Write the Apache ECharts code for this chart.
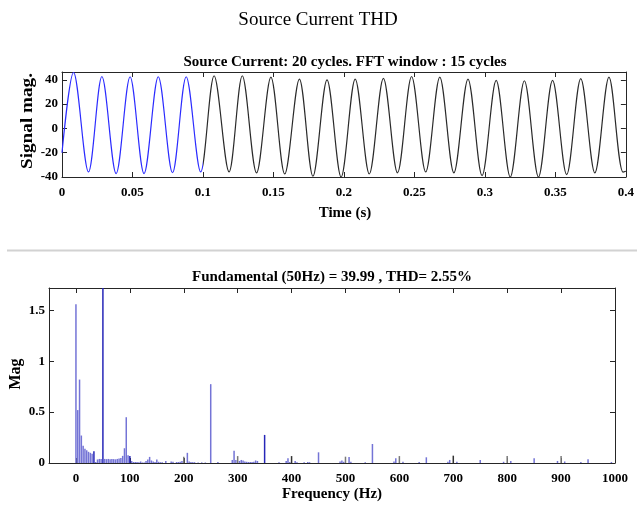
<!DOCTYPE html>
<html><head><meta charset="utf-8">
<script src="https://cdn.jsdelivr.net/npm/echarts@6/dist/echarts.min.js"></script>
<style>html,body{margin:0;padding:0;background:#fff}#c{width:637px;height:509px}</style>
</head><body><div id="c"></div>
<script>
// ---------- Data: time signal (extrema) ----------
const signalStart = [0, -20];
const signalEnd = [0.4, -35.3];
const peakTimes = [0.0082, 0.0283, 0.0483, 0.0683, 0.0881, 0.1079, 0.1279, 0.1482, 0.1684, 0.188, 0.208, 0.228, 0.248, 0.268, 0.288, 0.308, 0.328, 0.348, 0.368, 0.388];
const peakValues = [46, 42.7, 42.5, 42.5, 42.5, 43.3, 43.3, 42.2, 40.6, 40, 40.6, 41.2, 42.7, 42.2, 40.6, 39.5, 39.2, 39.5, 40.9, 42.2];
const troughTimes = [0.0188, 0.0384, 0.0582, 0.0784, 0.0984, 0.1185, 0.138, 0.158, 0.178, 0.198, 0.218, 0.238, 0.258, 0.278, 0.298, 0.318, 0.338, 0.358, 0.378, 0.398];
const troughValues = [-35.8, -37.2, -37.2, -36.5, -35.8, -35.8, -36.6, -37.5, -39.4, -40, -37.5, -36.6, -35.8, -36.6, -38.9, -40, -40, -38.1, -36.6, -36];
const fftWindowEnd = 0.1;

// ---------- Data: spectrum ----------
const specFreq = [0, 3.33, 6.67, 10, 13.33, 16.67, 20, 23.33, 26.67, 30, 33.33, 36.67, 40, 43.33, 46.67, 50, 53.33, 56.67, 60, 63.33, 66.67, 70, 73.33, 76.67, 80, 83.33, 86.67, 90, 93.33, 96.67, 100, 103.33, 106.67, 110, 113.33, 116.67, 120, 123.33, 126.67, 130, 133.33, 136.67, 140, 143.33, 146.67, 150, 153.33, 156.67, 160, 166.67, 176.67, 180, 186.67, 190, 193.33, 196.67, 200, 206.67, 210, 213.33, 216.67, 220, 226.67, 233.33, 240, 250, 263.33, 290, 293.33, 296.67, 300, 303.33, 306.67, 310, 313.33, 316.67, 320, 323.33, 326.67, 330, 333.33, 336.67, 350, 376.67, 390, 393.33, 396.67, 400, 406.67, 410, 423.33, 430, 433.33, 450, 490, 493.33, 496.67, 500, 506.67, 510, 536.67, 550, 590, 593.33, 600, 606.67, 636.67, 650, 690, 693.33, 700, 706.67, 750, 793.33, 800, 806.67, 850, 893.33, 900, 906.67, 936.67, 950, 993.33];
const specMag = [1.56, 0.52, 0.82, 0.27, 0.17, 0.14, 0.125, 0.11, 0.1, 0.09, 0.115, 0.01, 0.035, 0.04, 0.04, 39.99, 0.04, 0.038, 0.04, 0.038, 0.04, 0.038, 0.036, 0.04, 0.045, 0.05, 0.07, 0.145, 0.45, 0.075, 0.07, 0.02, 0.01, 0.01, 0.01, 0.008, 0.015, 0.005, 0.005, 0.02, 0.035, 0.06, 0.025, 0.015, 0.01, 0.035, 0.012, 0.008, 0.008, 0.02, 0.015, 0.012, 0.01, 0.01, 0.012, 0.02, 0.062, 0.1, 0.015, 0.01, 0.008, 0.008, 0.006, 0.006, 0.005, 0.775, 0.01, 0.03, 0.12, 0.03, 0.068, 0.02, 0.03, 0.025, 0.015, 0.012, 0.01, 0.01, 0.01, 0.012, 0.025, 0.02, 0.276, 0.008, 0.02, 0.046, 0.01, 0.068, 0.02, 0.008, 0.008, 0.01, 0.008, 0.105, 0.015, 0.025, 0.012, 0.062, 0.06, 0.012, 0.008, 0.187, 0.015, 0.046, 0.068, 0.012, 0.01, 0.056, 0.012, 0.03, 0.072, 0.012, 0.03, 0.012, 0.07, 0.02, 0.046, 0.02, 0.07, 0.015, 0.01, 0.036, 0.01];
const freqTicks = [0, 100, 200, 300, 400, 500, 600, 700, 800, 900, 1000];

// ---------- Style groups (not data) ----------
const darkBars = [33.33, 50, 100, 350];
const grayBars = [200, 300, 500, 600, 800, 900];
const blackBars = [400, 700];

const FONT = '"Liberation Serif","Times New Roman",serif';
const AX = '#262626';
const tickLabel = {fontFamily: FONT, fontWeight: 'bold', fontSize: 13, color: '#000'};

const pts = [signalStart];
peakTimes.forEach((t, i) => pts.push([t, peakValues[i]]));
troughTimes.forEach((t, i) => pts.push([t, troughValues[i]]));
pts.push(signalEnd);
pts.sort((a, b) => a[0] - b[0]);

function barColor(f) {
  if (darkBars.indexOf(f) >= 0) return '#2626b8';
  if (grayBars.indexOf(f) >= 0) return '#7a7a7a';
  if (blackBars.indexOf(f) >= 0) return '#333333';
  return '#7474d6';
}
const barData = specFreq.map((f, i) => ({value: [f, specMag[i]], itemStyle: {color: barColor(f)}}));

function boxAxis(gridIndex, position, extra) {
  return Object.assign({
    gridIndex, type: 'value', position,
    axisLine: {show: true, onZero: false, lineStyle: {color: AX, width: 1}},
    axisTick: {show: true, inside: true, length: 5, lineStyle: {color: AX}},
    axisLabel: {show: false},
    splitLine: {show: false}
  }, extra);
}
function hideAbove(lim) {
  return v => (v > lim + 1e-9 ? '' : String(+v.toFixed(4)));
}

const chart = echarts.init(document.getElementById('c'), null, {renderer: 'canvas'});
chart.setOption({
  animation: false,
  backgroundColor: '#fff',
  grid: [
    {left: 62, top: 72, right: 9, height: 105},
    {left: 49, top: 288, right: 22, height: 175}
  ],
  xAxis: [
    boxAxis(0, 'bottom', {min: 0, max: 0.4, interval: 0.05,
      axisLabel: Object.assign({show: true, margin: 9, formatter: hideAbove(0.4)}, tickLabel)}),
    boxAxis(0, 'top', {min: 0, max: 0.4, interval: 0.05}),
    boxAxis(1, 'bottom', {min: -50, max: 1000,
      axisTick: {show: true, inside: true, length: 5, lineStyle: {color: AX}, customValues: freqTicks},
      axisLabel: Object.assign({show: true, margin: 9, customValues: freqTicks, formatter: v => String(v)}, tickLabel)}),
    boxAxis(1, 'top', {min: -50, max: 1000,
      axisTick: {show: true, inside: true, length: 5, lineStyle: {color: AX}, customValues: freqTicks}})
  ],
  yAxis: [
    boxAxis(0, 'left', {min: -40, max: 46.4, interval: 20,
      axisLabel: Object.assign({show: true, margin: 4, formatter: hideAbove(40)}, tickLabel)}),
    boxAxis(0, 'right', {min: -40, max: 46.4, interval: 20}),
    boxAxis(1, 'left', {min: 0, max: 1.72, interval: 0.5,
      axisLabel: Object.assign({show: true, margin: 4, formatter: hideAbove(1.5)}, tickLabel)}),
    boxAxis(1, 'right', {min: 0, max: 1.72, interval: 0.5})
  ],
  visualMap: {
    show: false, type: 'piecewise', seriesIndex: 0, dimension: 0,
    pieces: [{gte: -1, lt: fftWindowEnd, color: '#2b2bff'}, {gte: fftWindowEnd, lte: 1, color: '#2a2a2a'}]
  },
  series: [
    {type: 'line', xAxisIndex: 0, yAxisIndex: 0, data: pts, showSymbol: false, smooth: 0.33,
      lineStyle: {width: 1.2}, silent: true},
    {type: 'bar', xAxisIndex: 2, yAxisIndex: 2, data: barData, barWidth: 1.5, clip: true, silent: true}
  ],
  graphic: [
    {type: 'line', shape: {x1: 7, y1: 250.5, x2: 637, y2: 250.5}, style: {stroke: '#d2d2d2', lineWidth: 2}},
    {type: 'text', x: 318, y: 20, style: {text: 'Source Current THD', font: '19px ' + FONT, fill: '#000', align: 'center', verticalAlign: 'middle'}},
    {type: 'text', x: 345, y: 62, style: {text: 'Source Current: 20 cycles. FFT window : 15 cycles', font: 'bold 15px ' + FONT, fill: '#000', align: 'center', verticalAlign: 'middle'}},
    {type: 'text', x: 345, y: 213, style: {text: 'Time (s)', font: 'bold 15px ' + FONT, fill: '#000', align: 'center', verticalAlign: 'middle'}},
    {type: 'text', x: 28, y: 121, rotation: Math.PI / 2, scaleX: 1.2, style: {text: 'Signal mag.', font: 'bold 16px ' + FONT, fill: '#000', align: 'center', verticalAlign: 'middle'}},
    {type: 'text', x: 332, y: 277, style: {text: 'Fundamental (50Hz) = 39.99 , THD= 2.55%', font: 'bold 15px ' + FONT, fill: '#000', align: 'center', verticalAlign: 'middle'}},
    {type: 'text', x: 332, y: 494, style: {text: 'Frequency (Hz)', font: 'bold 15px ' + FONT, fill: '#000', align: 'center', verticalAlign: 'middle'}},
    {type: 'text', x: 16, y: 374, rotation: Math.PI / 2, style: {text: 'Mag', font: 'bold 16px ' + FONT, fill: '#000', align: 'center', verticalAlign: 'middle'}}
  ]
});
</script>
</body></html>
